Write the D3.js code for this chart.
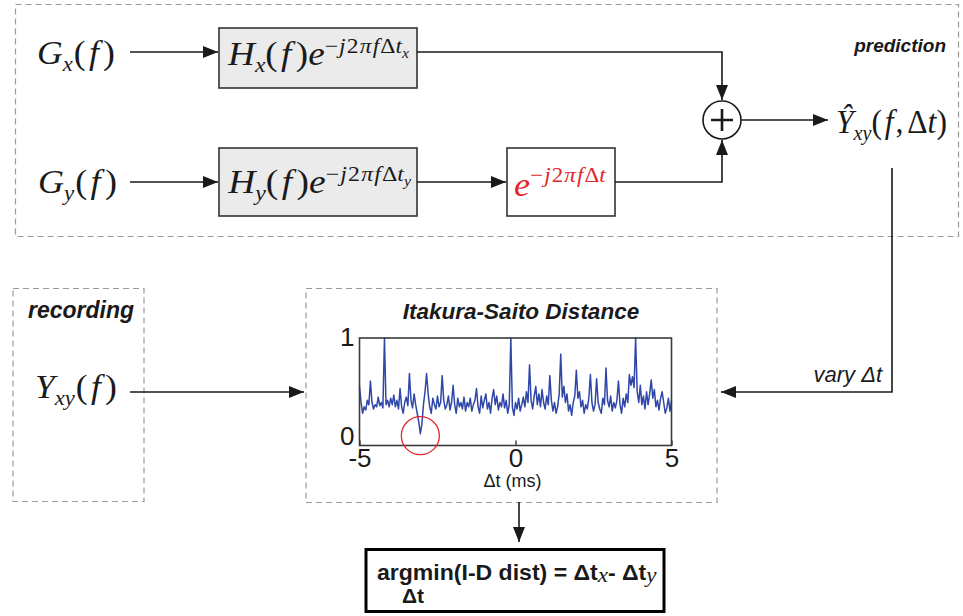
<!DOCTYPE html>
<html>
<head>
<meta charset="utf-8">
<script src="https://cdn.jsdelivr.net/npm/d3@7"></script>
<style>
  html, body { margin: 0; padding: 0; background: #fff; }
  svg { display: block; }
</style>
</head>
<body>
<svg id="chart" width="963" height="616"></svg>
<script>
// ---------------- data ----------------
const chartTitle = "Itakura-Saito Distance";
const xLabel = "\u0394t (ms)";
const xDomain = [-5, 5];
const yDomain = [0, 1];
const xTicks = [-5, 0, 5];
const yTicks = [0, 1];
const sampleStep = 0.05; // ms between samples
// Itakura-Saito distance (normalized), one value per sample from -5 ms to +5 ms
const isDistance = [
  0.55,0.40,0.30,0.36,0.33,0.42,0.38,0.60,0.40,0.34,
  0.38,0.36,0.45,0.37,0.40,0.35,1.00,0.38,0.42,0.36,
  0.44,0.38,0.47,0.36,0.42,0.34,0.53,0.36,0.30,0.40,
  0.45,0.37,0.67,0.42,0.35,0.48,0.38,0.30,0.22,0.11,
  0.20,0.38,0.50,0.67,0.48,0.36,0.30,0.44,0.38,0.34,
  0.46,0.36,0.40,0.65,0.42,0.34,0.38,0.46,0.33,0.40,
  0.56,0.38,0.30,0.44,0.36,0.40,0.34,0.45,0.32,0.40,
  0.36,0.44,0.32,0.38,0.42,0.53,0.36,0.30,0.46,0.35,
  0.42,0.48,0.34,0.40,0.30,0.44,0.52,0.38,0.46,0.33,
  0.40,0.36,0.48,0.35,0.42,0.30,0.38,1.00,0.36,0.28,
  0.40,0.34,0.44,0.32,0.38,0.45,0.36,0.50,0.40,0.75,
  0.42,0.34,0.46,0.55,0.38,0.48,0.36,0.52,0.40,0.34,
  0.46,0.38,0.65,0.42,0.32,0.40,0.30,0.36,0.48,0.85,
  0.45,0.55,0.40,0.48,0.32,0.38,0.28,0.40,0.46,0.70,
  0.44,0.50,0.36,0.42,0.30,0.38,0.34,0.44,0.66,0.40,
  0.32,0.38,0.62,0.40,0.34,0.30,0.44,0.38,0.72,0.42,
  0.36,0.46,0.32,0.40,0.35,0.42,0.60,0.38,0.30,0.44,
  0.36,0.48,0.40,0.66,0.56,0.64,0.54,1.00,0.50,0.40,
  0.56,0.38,0.46,0.34,0.50,0.38,0.48,0.61,0.44,0.52,
  0.36,0.42,0.33,0.44,0.50,0.40,0.30,0.35,0.44,0.32,
  0.42
];
const minimumTime = -3.05; // circled minimum (ms)

// ---------------- helpers ----------------
const svg = d3.select("#chart");
const SERIF = "'Liberation Serif','Times New Roman',serif";
const SANS = "'Liberation Sans',Arial,Helvetica,sans-serif";
const INK = "#1a1a1a";

const defs = svg.append("defs");
defs.append("marker").attr("id", "ah")
  .attr("markerUnits", "userSpaceOnUse")
  .attr("viewBox", "0 0 15 12").attr("refX", 15).attr("refY", 6)
  .attr("markerWidth", 15).attr("markerHeight", 12).attr("orient", "auto")
  .append("path").attr("d", "M0,0 L15,6 L0,12 Z").attr("fill", INK);

function arrow(points, head = true) {
  svg.append("path")
    .attr("d", d3.line()(points))
    .attr("fill", "none").attr("stroke", INK).attr("stroke-width", 1.6)
    .attr("marker-end", head ? "url(#ah)" : null);
}
function dashedBox(x, y, w, h) {
  svg.append("rect").attr("x", x).attr("y", y).attr("width", w).attr("height", h)
    .attr("fill", "none").attr("stroke", "#9a9a9a").attr("stroke-width", 1.2)
    .attr("stroke-dasharray", "6,4");
}
function box(x, y, w, h, fill, sw = 1.6, stroke = "#333") {
  svg.append("rect").attr("x", x).attr("y", y).attr("width", w).attr("height", h)
    .attr("fill", fill).attr("stroke", stroke).attr("stroke-width", sw);
}
// parts: [text, italic, size, baselineOffset, dx, family, weight]
function math(x, y, parts, width, fill = INK, family = SERIF) {
  const t = svg.append("text").attr("x", x).attr("y", y).attr("fill", fill)
    .style("font-family", family);
  let prev = 0;
  parts.forEach(p => {
    const [s, it, size, off, dx, fam, weight] = p;
    const ts = t.append("tspan").text(s).attr("font-size", size)
      .attr("font-style", it ? "italic" : "normal")
      .attr("dy", off - prev);
    if (dx) ts.attr("dx", dx);
    if (fam) ts.style("font-family", fam);
    if (weight) ts.attr("font-weight", weight);
    prev = off;
  });
  if (width) {
    const bb = t.node().getBBox();
    const sx = width / bb.width;
    t.attr("transform", `translate(${x},0) scale(${sx},1) translate(${-bb.x},0)`);
  }
  return t;
}

// ---------------- prediction block ----------------
dashedBox(15.5, 4.5, 943, 232);
svg.append("text").attr("x", 946).attr("y", 52).attr("text-anchor", "end")
  .style("font-family", SANS).attr("font-size", 19).attr("font-weight", "bold")
  .attr("font-style", "italic").attr("fill", INK).text("prediction");

const B = 33, S = 21, SS = 14;
// row x
math(37, 64, [["G", 1, B, 0], ["x", 1, S, 7], ["(", 0, B, 0, 1], ["f", 1, B, 0, 3], [")", 0, B, 0, 4]], 78);
arrow([[130, 52], [218, 52]]);
box(219, 28, 198, 60, "#ebebeb");
math(227, 65, [["H", 1, B, 0], ["x", 1, S, 7], ["(", 0, B, 0], ["f", 1, B, 0, 3], [")", 0, B, 0, 4], ["e", 1, B, 0],
  ["\u2212", 0, S, -12], ["j", 1, S, -12, 1], ["2", 0, S, -12, 1], ["\u03c0", 1, S, -12, 1], ["f", 1, S, -12, 1],
  ["\u0394", 0, S, -12, 1], ["t", 1, S, -12], ["x", 1, SS, -7]], 183);
arrow([[417, 52], [722, 52], [722, 100]]);

// row y
math(38, 193, [["G", 1, B, 0], ["y", 1, S, 7], ["(", 0, B, 0, 1], ["f", 1, B, 0, 3], [")", 0, B, 0, 4]], 79);
arrow([[130, 182], [218, 182]]);
box(219, 148, 198, 68, "#ebebeb");
math(227, 193, [["H", 1, B, 0], ["y", 1, S, 7], ["(", 0, B, 0], ["f", 1, B, 0, 3], [")", 0, B, 0, 4], ["e", 1, B, 0],
  ["\u2212", 0, S, -12], ["j", 1, S, -12, 1], ["2", 0, S, -12, 1], ["\u03c0", 1, S, -12, 1], ["f", 1, S, -12, 1],
  ["\u0394", 0, S, -12, 1], ["t", 1, S, -12], ["y", 1, SS, -7]], 185);
arrow([[417, 182], [506, 182]]);
box(507, 148, 108, 68, "#ffffff");
math(514, 196, [["e", 1, B, 0], ["\u2212", 0, S, -14], ["j", 1, S, -14, 1], ["2", 0, S, -14, 1], ["\u03c0", 1, S, -14, 1],
  ["f", 1, S, -14, 1], ["\u0394", 0, S, -14, 1], ["t", 1, S, -14]], 93, "#e3262b");
arrow([[615, 182], [722, 182], [722, 140]]);

// summation node
svg.append("circle").attr("cx", 722).attr("cy", 120).attr("r", 19)
  .attr("fill", "#fff").attr("stroke", INK).attr("stroke-width", 1.6);
svg.append("path").attr("d", "M711,120 H733 M722,109 V131")
  .attr("stroke", INK).attr("stroke-width", 2.6);
arrow([[741, 120], [828, 120]]);
math(836, 133, [["\u0176", 1, B, 0], ["xy", 1, S, 7], ["(", 0, B, 0], ["f", 1, B, 0, 3], [",", 0, B, 0, 2],
  ["\u0394", 0, B, 0, 4], ["t", 1, B, 0], [")", 0, B, 0]], 111);

// feedback to distance
arrow([[892, 168], [892, 392], [721, 392]]);
svg.append("text").attr("x", 882).attr("y", 382).attr("text-anchor", "end")
  .style("font-family", SANS).attr("font-size", 22).attr("font-style", "italic")
  .attr("fill", INK).text("vary \u0394t");

// ---------------- recording block ----------------
dashedBox(13, 288.5, 131, 213);
svg.append("text").attr("x", 28).attr("y", 318)
  .style("font-family", SANS).attr("font-size", 23).attr("font-weight", "bold")
  .attr("font-style", "italic").attr("fill", INK).text("recording");
math(35, 398, [["Y", 1, B, 0], ["xy", 1, S, 7], ["(", 0, B, 0, 1], ["f", 1, B, 0, 3], [")", 0, B, 0, 4]], 82);
arrow([[130, 392], [304, 392]]);

// ---------------- distance chart block ----------------
dashedBox(306, 288.5, 411, 214);
svg.append("text").attr("x", 521).attr("y", 319).attr("text-anchor", "middle")
  .style("font-family", SANS).attr("font-size", 22.5).attr("font-weight", "bold")
  .attr("font-style", "italic").attr("fill", INK).text(chartTitle);

const plot = { left: 359.5, right: 671.5, top: 338, bottom: 445.5 };
const x = d3.scaleLinear().domain(xDomain).range([plot.left, plot.right]);
const y = d3.scaleLinear().domain(yDomain).range([plot.bottom, plot.top]);
const times = isDistance.map((_, i) => xDomain[0] + i * sampleStep);

const gPlot = svg.append("g");
gPlot.append("path")
  .datum(isDistance)
  .attr("fill", "none").attr("stroke", "#2f47a8").attr("stroke-width", 1.5)
  .attr("stroke-linejoin", "round")
  .attr("d", d3.line().x((d, i) => x(times[i])).y(d => y(d)));

gPlot.append("rect").attr("x", plot.left).attr("y", plot.top)
  .attr("width", plot.right - plot.left).attr("height", plot.bottom - plot.top)
  .attr("fill", "none").attr("stroke", "#3a3a3a").attr("stroke-width", 1.6);

const xAxis = gPlot.append("g").attr("transform", `translate(0,${plot.bottom})`)
  .call(d3.axisBottom(x).tickValues(xTicks).tickSize(-5).tickPadding(3)
    .tickFormat(d => d < 0 ? "-" + Math.abs(d) : String(d)));
xAxis.select(".domain").remove();
xAxis.selectAll("line").attr("stroke", "#3a3a3a").attr("stroke-width", 1.4);
xAxis.selectAll("text").style("font-family", SANS).attr("font-size", 26).attr("fill", INK);

const yAxis = gPlot.append("g").attr("transform", `translate(${plot.left},0)`)
  .call(d3.axisLeft(y).tickValues(yTicks).tickSize(0).tickPadding(5).tickFormat(d3.format("d")));
yAxis.select(".domain").remove();
yAxis.selectAll("text").style("font-family", SANS).attr("font-size", 26).attr("fill", INK)
  .attr("dy", d => d === 0 ? "-0.04em" : "0.3em");

gPlot.append("text").attr("x", x(0) - 3).attr("y", 487).attr("text-anchor", "middle")
  .style("font-family", SANS).attr("font-size", 18).attr("fill", INK).text(xLabel);

const minIdx = d3.minIndex(isDistance);
gPlot.append("circle").attr("cx", x(minimumTime)).attr("cy", y(isDistance[minIdx]) + 2).attr("r", 19)
  .attr("fill", "none").attr("stroke", "#e3262b").attr("stroke-width", 1.3);

// ---------------- result ----------------
arrow([[519, 502], [519, 542]]);
box(366, 549.5, 298, 62, "#ffffff", 3, "#000");
math(377, 580, [["argmin(I-D dist) = \u0394t", 0, 22, 0, 0, SANS, "bold"],
  ["x", 1, 22, 2, 0, SERIF], ["- \u0394t", 0, 22, 0, 0, SANS, "bold"], ["y", 1, 22, 2, 0, SERIF]], 280);
svg.append("text").attr("x", 402).attr("y", 603)
  .style("font-family", SANS).attr("font-size", 21).attr("font-weight", "bold")
  .attr("fill", INK).text("\u0394t");
</script>
</body>
</html>
